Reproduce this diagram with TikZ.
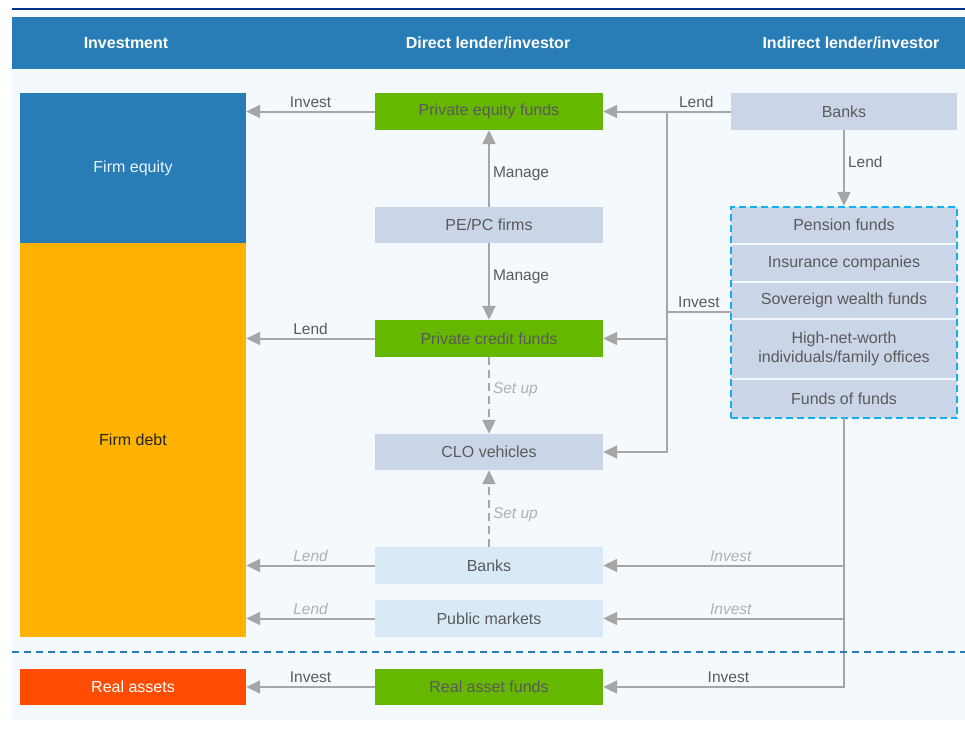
\documentclass[tikz,border=0pt]{standalone}
\usepackage{fontspec}
\setmainfont{Liberation Sans}
\usetikzlibrary{arrows.meta,fit}

\definecolor{navyline}{RGB}{0,51,141}
\definecolor{headblue}{RGB}{41,125,183}
\definecolor{paper}{RGB}{243,249,253}
\definecolor{fundgreen}{RGB}{102,183,0}
\definecolor{firmgrey}{RGB}{203,213,232}
\definecolor{mktblue}{RGB}{217,234,247}
\definecolor{debtorange}{RGB}{255,179,0}
\definecolor{assetred}{RGB}{255,76,0}
\definecolor{arrowgrey}{RGB}{166,166,166}
\definecolor{boxtext}{RGB}{90,90,90}
\definecolor{softgrey}{RGB}{176,176,176}
\definecolor{dashcyan}{RGB}{18,176,236}

\tikzset{
  cellbox/.style={minimum width=228pt,minimum height=37pt,inner sep=0pt,text=boxtext,
    font=\fontsize{16}{18.5}\selectfont,align=center},
  greenbox/.style={cellbox,fill=fundgreen},
  greybox/.style={cellbox,fill=firmgrey},
  mktbox/.style={cellbox,fill=mktblue},
  investbox/.style={minimum width=226pt,inner sep=0pt,font=\fontsize{16}{18}\selectfont},
  headtext/.style={text=white,font=\fontsize{16}{18}\selectfont\bfseries},
  flow/.style={draw=arrowgrey,line width=2pt,-{Triangle[length=14pt,width=13pt]}},
  link/.style={draw=arrowgrey,line width=2pt},
  lbl/.style={text=boxtext,font=\fontsize{15.5}{18}\selectfont,inner sep=3pt},
  softlbl/.style={lbl,text=softgrey,font=\fontsize{15.5}{18}\selectfont\itshape}
}

\begin{document}
\begin{tikzpicture}[x=1pt,y=-1pt]
\useasboundingbox[fill=white] (0,0) rectangle (965,729);
\draw[navyline,line width=2.5pt] (12,9) -- (965,9);
\fill[headblue] (12,17) rectangle (965,69);
\fill[paper] (12,69) rectangle (965,720);

\node[headtext] (hinvest) at (126,43) {Investment};
\node[headtext] (hdirect) at (488,43) {Direct lender/investor};
\node[headtext] (hindirect) at (851,43) {Indirect lender/investor};

\node[investbox,minimum height=150pt,fill=headblue,text=white!90!headblue] (equity) at (133,168) {Firm equity};
\node[investbox,minimum height=394pt,fill=debtorange,text=black!85] (debt) at (133,440) {Firm debt};
\node[investbox,minimum height=36pt,fill=assetred,text=white] (realassets) at (133,687) {Real assets};

\node[greenbox] (pefunds) at (489,111.5) {Private equity funds};
\node[greybox,minimum height=36pt] (pepc) at (489,225) {PE/PC firms};
\node[greenbox] (pcfunds) at (489,338.5) {Private credit funds};
\node[greybox,minimum height=36pt] (clo) at (489,452) {CLO vehicles};
\node[mktbox] (mbanks) at (489,565.5) {Banks};
\node[mktbox] (pubmkt) at (489,618.5) {Public markets};
\node[greenbox,minimum height=36pt] (rafunds) at (489,687) {Real asset funds};

\node[greybox,minimum width=226pt] (rbanks) at (844,111.5) {Banks};
\node[greybox,minimum width=226pt,minimum height=36pt] (pension) at (844,225) {Pension funds};
\node[greybox,minimum width=226pt,minimum height=36pt] (insurance) at (844,263) {Insurance companies};
\node[greybox,minimum width=226pt,minimum height=35pt] (sovereign) at (844,300.5) {Sovereign wealth funds};
\node[greybox,minimum width=226pt,minimum height=58pt] (hnw) at (844,349) {High-net-worth\\individuals/family offices};
\node[greybox,minimum width=226pt,minimum height=38pt] (fof) at (844,399) {Funds of funds};
\node[draw=dashcyan,line width=2pt,dash pattern=on 7pt off 4pt,inner sep=0pt,fit=(pension)(fof)] (inv) {};

\draw[flow] (pefunds.west) -- node[lbl,above] {Invest} (pefunds.west -| equity.east);
\draw[flow] (pcfunds.west) -- node[lbl,above] {Lend} (pcfunds.west -| debt.east);
\draw[flow] (mbanks.west) -- node[softlbl,above] {Lend} (mbanks.west -| debt.east);
\draw[flow] (pubmkt.west) -- node[softlbl,above] {Lend} (pubmkt.west -| debt.east);
\draw[flow] (rafunds.west) -- node[lbl,above] {Invest} (realassets.east);

\draw[flow] (pepc.north) -- node[lbl,right,pos=0.43] {Manage} (pefunds.south);
\draw[flow] (pepc.south) -- node[lbl,right,pos=0.44] {Manage} (pcfunds.north);
\draw[flow,dash pattern=on 8pt off 5pt] (pcfunds.south) -- node[softlbl,right,pos=0.42] {Set up} (clo.north);
\draw[flow,dash pattern=on 8pt off 5pt] (mbanks.north) -- node[softlbl,right,pos=0.42] {Set up} (clo.south);

\coordinate (trunk) at (667,111.5);
\coordinate (invout) at ([yshift=-11.5pt]sovereign.west);
\draw[flow] (rbanks.west) -- node[lbl,above,pos=0.27] {Lend} (pefunds.east);
\draw[flow] (trunk) |- (clo.east);
\draw[flow] (trunk |- pcfunds) -- (pcfunds.east);
\draw[link] (invout) -- node[lbl,above] {Invest} (trunk |- invout);
\draw[flow] (rbanks.south) -- node[lbl,right,pos=0.42] {Lend} (inv.north);

\draw[flow] (fof.south) |- node[lbl,above,pos=0.74] {Invest} (rafunds.east);
\draw[flow] (fof.south |- mbanks) -- node[softlbl,above,pos=0.47] {Invest} (mbanks.east);
\draw[flow] (fof.south |- pubmkt) -- node[softlbl,above,pos=0.47] {Invest} (pubmkt.east);

\draw[headblue,line width=2.5pt,dash pattern=on 7pt off 5pt] (12,652) -- (965,652);
\end{tikzpicture}
\end{document}
